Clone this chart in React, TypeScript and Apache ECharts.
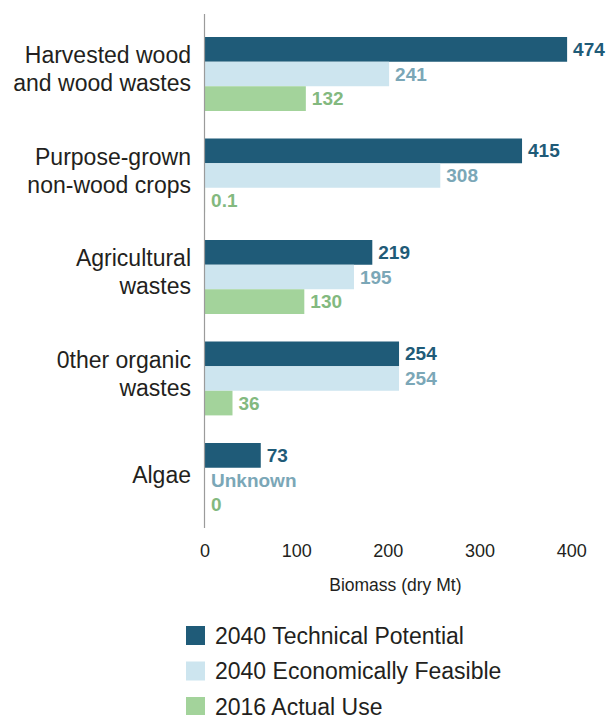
import React, { useEffect, useRef } from "react";
import * as echarts from "echarts";

const categories = [
  "Harvested wood\nand wood wastes",
  "Purpose-grown\nnon-wood crops",
  "Agricultural\nwastes",
  "0ther organic\nwastes",
  "Algae",
];
const seriesNames = [
  "2040 Technical Potential",
  "2040 Economically Feasible",
  "2016 Actual Use",
];
const technical = [474, 415, 219, 254, 73];
const economic: (number | null)[] = [241, 308, 195, 254, null];
const actual = [132, 0.1, 130, 36, 0];
const tickLabels = [0, 100, 200, 300, 400];

const barColors = ["#1f5b78", "#cde5ef", "#a3d39b"];
const labelColors = ["#1f5b78", "#7ba7b7", "#83b97f"];

export default function App() {
  const ref = useRef<HTMLDivElement>(null);
  useEffect(() => {
    if (!ref.current) return;
    const chart = echarts.init(ref.current, null, { renderer: "svg" });
    const font = "Liberation Sans, Arial, sans-serif";
    const mkSeries = (i: number, values: any[]) => ({
      name: seriesNames[i],
      type: "bar",
      xAxisIndex: 0,
      yAxisIndex: 0,
      barWidth: 24.6,
      barGap: "0%",
      itemStyle: { color: barColors[i] },
      label: {
        show: true,
        position: "right",
        distance: 6,
        color: labelColors[i],
        fontFamily: font,
        fontWeight: "bold",
        fontSize: 19,
      },
      data: values.map((v) =>
        v === null ? { value: 0, label: { formatter: "Unknown" } } : v
      ),
    });
    const legendTops = [619, 654.5, 690];
    chart.setOption({
      animation: false,
      textStyle: { fontFamily: font },
      grid: [
        { left: 205, top: 23.25, width: 366.7, height: 507.5 },
        { left: 205, top: 18.25, width: 366.7, height: 507.5 },
      ],
      xAxis: [
        {
          type: "value",
          gridIndex: 0,
          min: 0,
          max: 480,
          show: false,
        },
        {
          type: "value",
          gridIndex: 0,
          min: 0,
          max: tickLabels[tickLabels.length - 1],
          interval: 100,
          position: "bottom",
          axisLine: { show: false },
          axisTick: { show: false },
          splitLine: { show: false },
          axisLabel: { color: "#231f20", fontSize: 18, margin: 11, fontFamily: font },
          name: "Biomass (dry Mt)",
          nameLocation: "middle",
          nameGap: 45,
          nameTextStyle: { color: "#231f20", fontSize: 17.5, fontFamily: font, padding: [0, 0, 0, 14] },
        },
        {
          type: "value",
          gridIndex: 1,
          show: false,
        },
      ],
      yAxis: [
        {
          type: "category",
          gridIndex: 0,
          data: categories,
          inverse: true,
          axisLine: { show: false },
          axisTick: { show: false },
          axisLabel: { show: false },
        },
        {
          type: "category",
          gridIndex: 1,
          data: categories,
          inverse: true,
          axisLine: { show: false },
          axisTick: { show: false },
          axisLabel: {
            color: "#231f20",
            fontSize: 23,
            lineHeight: 28,
            margin: 14,
            fontFamily: font,
          },
        },
      ],
      legend: seriesNames.map((n, i) => ({
        orient: "vertical",
        left: 181,
        top: legendTops[i],
        itemWidth: 19,
        itemHeight: 19,
        itemGap: 10,
        icon: "rect",
        textStyle: {
          color: "#231f20",
          fontSize: 23,
          lineHeight: 19,
          fontFamily: font,
          padding: [0, 0, 0, 5],
        },
        data: [n],
      })),
      graphic: [
        {
          type: "line",
          shape: { x1: 204.5, y1: 14, x2: 204.5, y2: 528 },
          style: { stroke: "#9b9b9b", lineWidth: 1.2 },
          z: 10,
        },
      ],
      series: [mkSeries(0, technical), mkSeries(1, economic), mkSeries(2, actual)],
    });
    return () => chart.dispose();
  }, []);
  return (
    <div
      ref={ref}
      style={{ position: "absolute", left: 0, top: 0, width: 610, height: 715 }}
    />
  );
}
